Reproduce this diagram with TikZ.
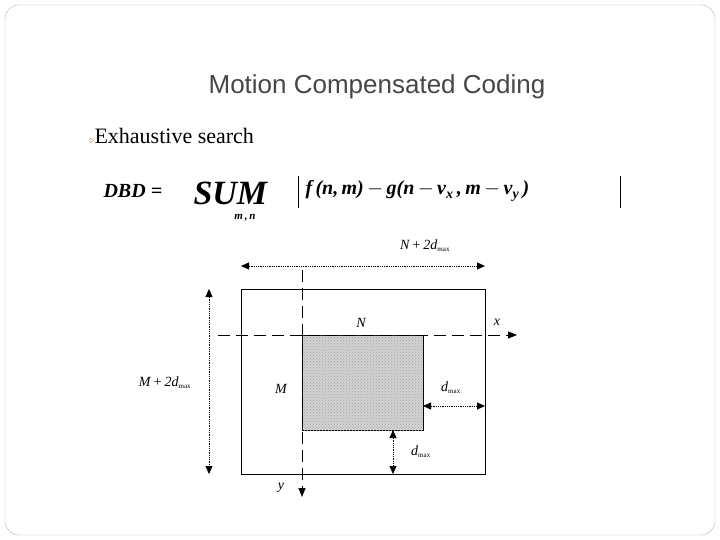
\documentclass[tikz,border=0pt]{standalone}
\usepackage{fontspec}
\setmainfont{Liberation Serif}
\newfontfamily\titlefont{Liberation Sans}
\usetikzlibrary{arrows.meta,patterns}
\definecolor{titlegray}{RGB}{70,70,70}
\definecolor{bulletbrown}{RGB}{170,110,60}
\tikzset{
  dimarrow/.style={densely dotted,thick,{Triangle[length=8pt,width=7pt]}-{Triangle[length=8pt,width=7pt]}},
  axisline/.style={dash pattern=on 12pt off 6pt,-{Triangle[length=9pt,width=7pt]}},
  lbl/.style={font=\fontsize{14}{14}\selectfont\itshape},
}
\begin{document}
\begin{tikzpicture}[x=1pt,y=-1pt]
\useasboundingbox (0,0) rectangle (720,540);
\draw[gray!60,rounded corners=14] (5,5) rectangle (715,535);
% title and bullet
\node[text=titlegray,font=\titlefont\fontsize{26}{26}\selectfont] (title) at (377,87) {Motion Compensated Coding};
\node[anchor=west,font=\fontsize{22}{22}\selectfont] (bullet) at (86,136) {\textcolor{bulletbrown}{\fontsize{10}{10}\selectfont$\triangleright$}Exhaustive search};
% formula
\node[anchor=west,font=\fontsize{20}{20}\selectfont\bfseries\itshape] (dbd) at (100,191) {DBD =};
\node[anchor=west,font=\fontsize{34}{34}\selectfont\bfseries\itshape] (sum) at (190,193) {SUM};
\node[font=\fontsize{11}{11}\selectfont\bfseries\itshape] (sumidx) at (245,218) {m\,,\,n};
\draw[thick] (298,176) -- (298,208);
\node[anchor=west,font=\fontsize{20}{20}\selectfont\bfseries\itshape] (fg) at (302,191)
  {f\,(n,\,m)\,$-$\,g(n\,$-$\,v\textsubscript{x}\,,\,m\,$-$\,v\textsubscript{y}\,)};
\draw[thick] (620,176) -- (620,208);
% frames
\draw[thick] (241,289) rectangle (485,474);
\draw[thick,fill=gray!35] (302,335) rectangle (423,430);
\fill[pattern=crosshatch dots,pattern color=gray!70] (302,335) rectangle (423,430);
% axes
\coordinate (xs) at (218,335); \coordinate (xe) at (517,335);
\coordinate (ys) at (302,270); \coordinate (ye) at (302,497);
\draw[thick,axisline] (xs) -- (xe);
\draw[thick,axisline] (ys) -- (ye);
\node[lbl] (xl) at (497,322) {x};
\node[lbl] (yl) at (281,488) {y};
% dimensions
\coordinate (tl) at (241,266); \coordinate (tr) at (485,266);
\draw[dimarrow] (tl) -- (tr);
\node[lbl] (ntop) at (425,246) {N\,+\,2d\textsubscript{\upshape\fontsize{7}{7}\selectfont max}};
\coordinate (lt) at (209,289); \coordinate (lb) at (209,474);
\draw[dimarrow] (lt) -- (lb);
\node[lbl] (mleft) at (165,383) {M\,+\,2d\textsubscript{\upshape\fontsize{7}{7}\selectfont max}};
\node[lbl] (nl) at (361,323) {N};
\node[lbl] (ml) at (281,389) {M};
\coordinate (rl) at (423,406); \coordinate (rr) at (485,406);
\draw[dimarrow] (rl) -- (rr);
\node[lbl] (dr) at (451,388) {d\textsubscript{\upshape\fontsize{7}{7}\selectfont max}};
\coordinate (bt) at (393,430); \coordinate (bb) at (393,474);
\draw[dimarrow] (bt) -- (bb);
\node[lbl] (db) at (421,452) {d\textsubscript{\upshape\fontsize{7}{7}\selectfont max}};
\end{tikzpicture}
\end{document}
